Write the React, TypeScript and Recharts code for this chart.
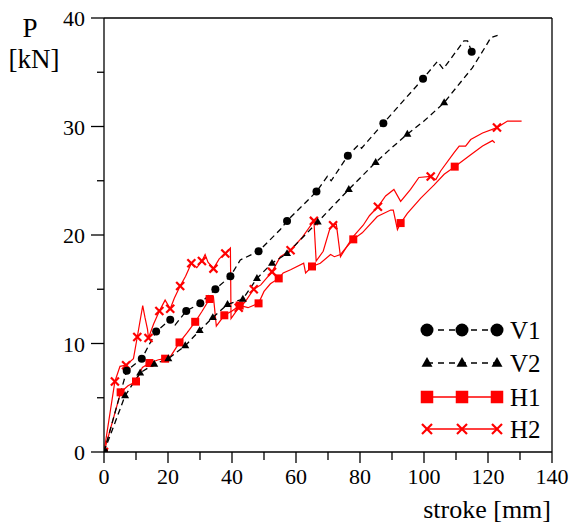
import React from 'react';
import { LineChart, Line, XAxis, YAxis, ReferenceLine } from 'recharts';

// [stroke mm, load kN, marker flag]
type Pt = [number, number, number];

const v1: Pt[] = [
  [0, 0, 1], [7.1, 7.5, 1], [11.8, 8.6, 1], [16.3, 11.1, 1], [20.7, 12.2, 1],
  [22.2, 11.7, 0], [25.7, 13.0, 1], [30.1, 13.7, 1], [34.8, 15.0, 1], [39.5, 16.2, 1],
  [42.6, 17.7, 0], [48.3, 18.5, 1], [55.1, 20.5, 0], [57.2, 21.3, 1], [66.4, 24.0, 1],
  [69.8, 25.4, 0], [71, 25.0, 0], [76.2, 27.3, 1], [79.5, 28.3, 0], [80.5, 28.0, 0],
  [87.3, 30.3, 1], [99.7, 34.4, 1], [104.2, 36.0, 0], [106, 35.3, 0], [112.5, 37.9, 0],
  [113.6, 37.9, 0], [114.9, 36.9, 1],
];

const v2: Pt[] = [
  [0, 0, 1], [6.6, 5.2, 1], [11.3, 7.3, 1], [15.7, 8.1, 1], [20.1, 8.6, 1],
  [25.4, 9.8, 1], [29.9, 11.2, 1], [34.0, 12.4, 1], [38.6, 13.6, 1], [43.4, 14.1, 1],
  [47.8, 16.0, 1], [52.5, 17.4, 1], [57.2, 18.3, 1], [66.8, 21.2, 1], [76.5, 24.2, 1],
  [84.9, 26.7, 1], [89, 27.8, 0], [94.8, 29.3, 1], [100, 30.5, 0], [106.3, 32.2, 1],
  [111.5, 34.1, 0], [115.1, 35.4, 0], [119.3, 37.4, 0], [120.9, 38.2, 0], [123, 38.4, 0],
];

const h1: Pt[] = [
  [0, 0, 1], [5.2, 5.5, 1], [7.5, 6.1, 0], [10.0, 6.5, 1], [12, 7.8, 0],
  [14.2, 8.2, 1], [17, 8.5, 0], [19.1, 8.6, 1], [21, 8.9, 0], [23.6, 10.1, 1],
  [26, 11.0, 0], [28.5, 12.0, 1], [30.5, 12.9, 0], [33.0, 14.1, 1], [34.2, 14.3, 0],
  [35.1, 11.6, 0], [37.6, 12.6, 1], [40, 13.0, 0], [42.4, 13.5, 1], [45, 13.3, 0],
  [48.3, 13.7, 1], [50, 14.8, 0], [52, 15.5, 0], [54.6, 16.0, 1], [56, 16.5, 0],
  [58.3, 16.8, 0], [62.4, 17.4, 0], [63, 16.5, 0], [65, 17.1, 1], [67.6, 17.4, 0],
  [70.8, 18.2, 0], [72, 18.0, 0], [73.9, 18.2, 0], [75, 18.6, 0], [77.9, 19.6, 1],
  [80.7, 20.2, 0], [85.4, 21.7, 0], [89.6, 22.3, 0], [90.4, 22.3, 0], [91.7, 20.5, 0],
  [92.7, 21.1, 1], [94.8, 22.0, 0], [99, 23.4, 0], [103.1, 24.6, 0], [106.3, 25.6, 0],
  [109.6, 26.3, 1], [114.6, 27.4, 0], [118.3, 28.2, 0], [121.4, 28.7, 0], [122.1, 28.5, 0],
];

const h2: Pt[] = [
  [0, 0, 1], [3.4, 6.5, 1], [5.0, 7.9, 0], [6.9, 8.0, 1], [9.2, 8.6, 0],
  [10.4, 10.6, 1], [12.1, 13.5, 0], [12.8, 12.4, 0], [13.6, 11.3, 0], [13.9, 10.5, 1],
  [15.5, 11.8, 0], [17.3, 13.0, 1], [19.1, 14.0, 0], [20.7, 13.2, 1], [22, 14.2, 0],
  [23.8, 15.3, 1], [25.5, 16.2, 0], [27.3, 17.4, 1], [29, 17.0, 0], [30.6, 17.6, 1],
  [31.6, 18.2, 0], [32.5, 17.5, 0], [34.2, 16.9, 1], [36, 17.8, 0], [37.9, 18.3, 1],
  [39.5, 18.8, 0], [39.7, 12.3, 0], [42.1, 13.3, 1], [44, 13.8, 0], [46.8, 15.0, 1],
  [49, 15.4, 0], [52.5, 16.6, 1], [55.1, 18.0, 0], [58.3, 18.6, 1], [62, 19.8, 0],
  [65.6, 21.3, 1], [66.3, 17.6, 0], [68.5, 18.5, 0], [70.5, 20.5, 0], [71.6, 20.9, 1],
  [72.6, 21.0, 0], [73.9, 18.0, 0], [76, 19.0, 0], [78, 19.9, 0], [81, 20.9, 0],
  [83, 21.8, 0], [85.6, 22.6, 1], [88, 23.6, 0], [90.6, 24.2, 0], [92.7, 23.1, 0],
  [95.8, 24.2, 0], [98.4, 25.3, 0], [102.1, 25.4, 1], [103.7, 25.1, 0], [105.2, 25.9, 0],
  [109.4, 27.6, 0], [111, 28.2, 0], [113, 28.2, 0], [114.6, 28.8, 0], [118.3, 29.4, 0],
  [122.8, 29.9, 1], [126.1, 30.5, 0], [130.5, 30.5, 0],
];

const xTicks = [0, 10, 20, 30, 40, 50, 60, 70, 80, 90, 100, 110, 120, 130, 140];
const yTicks = [0, 5, 10, 15, 20, 25, 30, 35, 40];

const legendItems = [
  { name: 'V1', kind: 'circle' },
  { name: 'V2', kind: 'triangle' },
  { name: 'H1', kind: 'square' },
  { name: 'H2', kind: 'cross' },
];

const FONT = '"Liberation Serif", "Times New Roman", serif';
const RED = '#ff0000';

const toRows = (pts: Pt[]) => pts.map(([x, y, m]) => ({ x, y, m }));

function Marker({ kind, cx, cy, s }: { kind: string; cx: number; cy: number; s: number }) {
  if (kind === 'circle') return <circle cx={cx} cy={cy} r={s / 2} fill="#000" />;
  if (kind === 'triangle') {
    const h = s * 0.87;
    return (
      <polygon
        points={`${cx},${cy - h * 0.62} ${cx - s / 2},${cy + h * 0.38} ${cx + s / 2},${cy + h * 0.38}`}
        fill="#000"
      />
    );
  }
  if (kind === 'square')
    return <rect x={cx - s / 2} y={cy - s / 2} width={s} height={s} fill={RED} />;
  const d = s / 2;
  return (
    <g stroke={RED} strokeWidth={2.2}>
      <line x1={cx - d} y1={cy - d} x2={cx + d} y2={cy + d} />
      <line x1={cx - d} y1={cy + d} x2={cx + d} y2={cy - d} />
    </g>
  );
}

const dotFor = (kind: string) => (props: any) => {
  const { cx, cy, payload, index } = props;
  if (!payload || !payload.m) return <g key={`n-${index}`} />;
  return <Marker key={`m-${index}`} kind={kind} cx={cx} cy={cy} s={8} />;
};

function XTick(props: any) {
  const { x, y, payload } = props;
  const major = payload.value % 20 === 0;
  return (
    <g>
      <line x1={x} y1={y} x2={x} y2={y + (major ? 11 : 8)} stroke="#000" strokeWidth={1.3} />
      {major && (
        <text x={x} y={y + 32} textAnchor="middle" fontFamily={FONT} fontSize={22} fill="#000">
          {payload.value}
        </text>
      )}
    </g>
  );
}

function YTick(props: any) {
  const { x, y, payload } = props;
  const major = payload.value % 10 === 0;
  return (
    <g>
      <line x1={x - (major ? 13 : 7)} y1={y} x2={x} y2={y} stroke="#000" strokeWidth={1.3} />
      {major && (
        <text x={x - 19} y={y + 8} textAnchor="end" fontFamily={FONT} fontSize={22} fill="#000">
          {payload.value}
        </text>
      )}
    </g>
  );
}

function LegendOverlay() {
  const rows = [330, 363, 397, 429];
  const xs = [427, 462, 497];
  return (
    <svg
      width={573}
      height={526}
      style={{ position: 'absolute', left: 0, top: 0, pointerEvents: 'none' }}
    >
      <text x={30} y={37} textAnchor="middle" fontFamily={FONT} fontSize={27}>P</text>
      <text x={34} y={68} textAnchor="middle" fontFamily={FONT} fontSize={27}>[kN]</text>
      <text x={551} y={518} textAnchor="end" fontFamily={FONT} fontSize={26}>stroke [mm]</text>
      {legendItems.map((it, i) => {
        const cy = rows[i];
        const black = it.kind === 'circle' || it.kind === 'triangle';
        const size = it.kind === 'circle' ? 13 : it.kind === 'triangle' ? 11 : it.kind === 'square' ? 12.5 : 10;
        return (
          <g key={it.name}>
            <line
              x1={xs[0]}
              y1={cy}
              x2={xs[2]}
              y2={cy}
              stroke={black ? '#000' : RED}
              strokeWidth={1.3}
              strokeDasharray={black ? '6 5' : undefined}
            />
            {xs.map((x) => (
              <Marker key={x} kind={it.kind} cx={x} cy={cy} s={size} />
            ))}
            <text x={510} y={cy + 9} fontFamily={FONT} fontSize={25}>
              {it.name}
            </text>
          </g>
        );
      })}
    </svg>
  );
}

export default function App() {
  return (
    <div style={{ position: 'absolute', left: 0, top: 0, width: 573, height: 526, background: '#fff' }}>
      <LineChart width={573} height={526} margin={{ top: 18, right: 21, bottom: 0, left: 0 }}>
        <XAxis
          type="number"
          dataKey="x"
          domain={[0, 140]}
          ticks={xTicks}
          interval={0}
          height={74}
          tickSize={0}
          tickMargin={0}
          tickLine={false}
          axisLine={{ stroke: '#000', strokeWidth: 1.3 }}
          tick={(p: any) => <XTick {...p} />}
          allowDataOverflow
        />
        <YAxis
          type="number"
          dataKey="y"
          domain={[0, 40]}
          ticks={yTicks}
          interval={0}
          width={104}
          tickSize={0}
          tickMargin={0}
          tickLine={false}
          axisLine={{ stroke: '#000', strokeWidth: 1.3 }}
          tick={(p: any) => <YTick {...p} />}
          allowDataOverflow
        />
        <ReferenceLine y={40} stroke="#000" strokeWidth={1.3} />
        <ReferenceLine x={140} stroke="#000" strokeWidth={1.3} />
        <Line data={toRows(h1)} dataKey="y" type="linear" stroke={RED} strokeWidth={1.2}
          dot={dotFor('square')} activeDot={false} isAnimationActive={false} />
        <Line data={toRows(h2)} dataKey="y" type="linear" stroke={RED} strokeWidth={1.2}
          dot={dotFor('cross')} activeDot={false} isAnimationActive={false} />
        <Line data={toRows(v2)} dataKey="y" type="linear" stroke="#000" strokeWidth={1.3}
          strokeDasharray="6 4" dot={dotFor('triangle')} activeDot={false} isAnimationActive={false} />
        <Line data={toRows(v1)} dataKey="y" type="linear" stroke="#000" strokeWidth={1.3}
          strokeDasharray="6 4" dot={dotFor('circle')} activeDot={false} isAnimationActive={false} />
      </LineChart>
      <LegendOverlay />
    </div>
  );
}
